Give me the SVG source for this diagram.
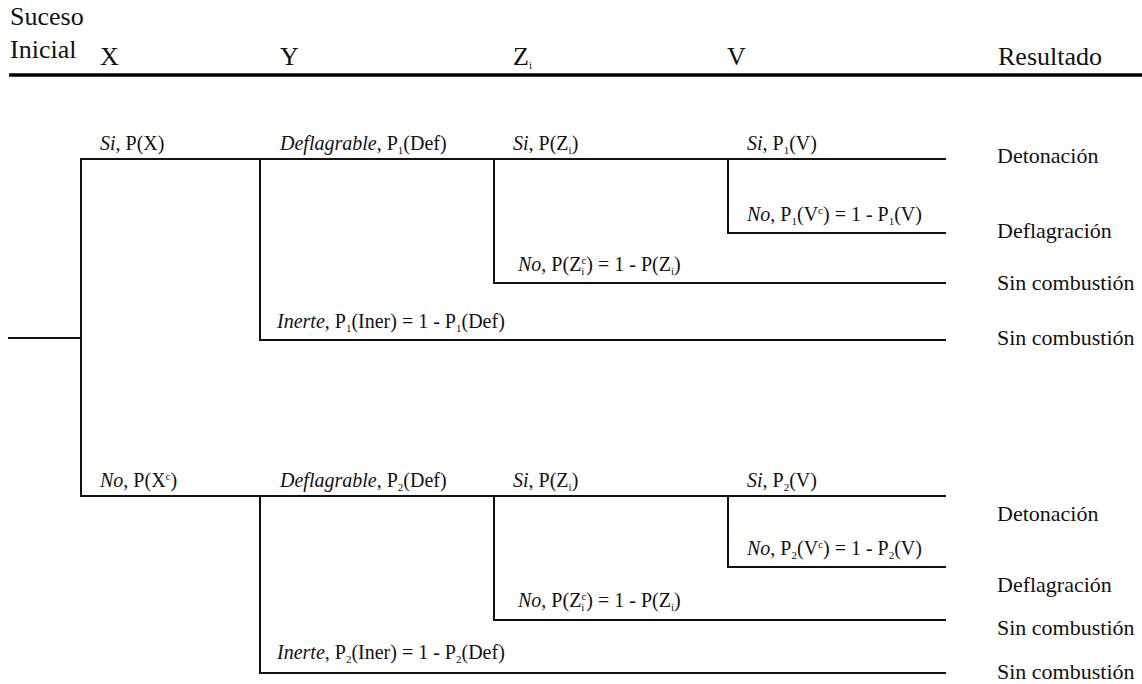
<svg xmlns="http://www.w3.org/2000/svg" width="1142" height="684" viewBox="0 0 1142 684">
  <style>
    text { font-family: "Liberation Serif", "Times New Roman", serif; fill: #111; }
    .hdr { font-size: 26px; }
    .lbl { font-size: 20px; }
    .res { font-size: 22px; }
    .it { font-style: italic; }
    .sb { font-size: 11px; }
    .sp { font-size: 11px; }
    .branch { fill: none; stroke: #111; stroke-width: 2; stroke-linecap: square; }
    .rule { fill: none; stroke: #000; stroke-width: 3.5; }
  </style>
  <rect width="1142" height="684" fill="#fff"/>

  <!-- column headings -->
  <g id="header">
    <text class="hdr" x="10" y="25">Suceso</text>
    <text class="hdr" x="10" y="58">Inicial</text>
    <text class="hdr" x="100" y="65">X</text>
    <text class="hdr" x="280" y="65">Y</text>
    <text class="hdr" x="513" y="65">Z<tspan class="sb" dy="4">i</tspan></text>
    <text class="hdr" x="727" y="65">V</text>
    <text class="hdr" x="998" y="65">Resultado</text>
    <line class="rule" x1="9" y1="75" x2="1142" y2="75"/>
  </g>

  <!-- event tree branches -->
  <g id="connectors" class="branch">
    <!-- initiating stem and X split -->
    <path d="M9 338 H81 M81 159 V496"/>
    <!-- upper branch: X = Si -->
    <path d="M81 159 H945"/>
    <path d="M260 159 V340 H945"/>
    <path d="M494 159 V283 H945"/>
    <path d="M728 159 V233 H945"/>
    <!-- lower branch: X = No -->
    <path d="M81 496 H945"/>
    <path d="M260 496 V673 H945"/>
    <path d="M494 496 V620 H945"/>
    <path d="M728 496 V567 H945"/>
  </g>

  <!-- branch labels, upper half -->
  <g id="x-si"><text class="lbl" x="100" y="150"><tspan class="it">Si</tspan>, P(X)</text></g>
  <g id="y-def-1"><text class="lbl" x="280" y="150"><tspan class="it">Deflagrable</tspan>, P<tspan class="sb" dy="4">1</tspan><tspan dy="-4">(Def)</tspan></text></g>
  <g id="z-si-1"><text class="lbl" x="513" y="150"><tspan class="it">Si</tspan>, P(Z<tspan class="sb" dy="4">i</tspan><tspan dy="-4">)</tspan></text></g>
  <g id="v-si-1"><text class="lbl" x="747" y="150"><tspan class="it">Si</tspan>, P<tspan class="sb" dy="4">1</tspan><tspan dy="-4">(V)</tspan></text></g>
  <g id="v-no-1"><text class="lbl" x="747" y="221"><tspan class="it">No</tspan>, P<tspan class="sb" dy="4">1</tspan><tspan dy="-4">(V</tspan><tspan class="sp" dy="-7">c</tspan><tspan dy="7">) = 1 - P</tspan><tspan class="sb" dy="4">1</tspan><tspan dy="-4">(V)</tspan></text></g>
  <g id="z-no-1"><text class="lbl" x="518" y="271"><tspan class="it">No</tspan>, P(Z<tspan class="sb" dy="4">i</tspan><tspan class="sp" dx="-3" dy="-11">c</tspan><tspan dy="7">) = 1 - P(Z</tspan><tspan class="sb" dy="4">i</tspan><tspan dy="-4">)</tspan></text></g>
  <g id="y-iner-1"><text class="lbl" x="277" y="328"><tspan class="it">Inerte</tspan>, P<tspan class="sb" dy="4">1</tspan><tspan dy="-4">(Iner) = 1 - P</tspan><tspan class="sb" dy="4">1</tspan><tspan dy="-4">(Def)</tspan></text></g>

  <!-- branch labels, lower half -->
  <g id="x-no"><text class="lbl" x="100" y="487"><tspan class="it">No</tspan>, P(X<tspan class="sp" dy="-7">c</tspan><tspan dy="7">)</tspan></text></g>
  <g id="y-def-2"><text class="lbl" x="280" y="487"><tspan class="it">Deflagrable</tspan>, P<tspan class="sb" dy="4">2</tspan><tspan dy="-4">(Def)</tspan></text></g>
  <g id="z-si-2"><text class="lbl" x="513" y="487"><tspan class="it">Si</tspan>, P(Z<tspan class="sb" dy="4">i</tspan><tspan dy="-4">)</tspan></text></g>
  <g id="v-si-2"><text class="lbl" x="747" y="487"><tspan class="it">Si</tspan>, P<tspan class="sb" dy="4">2</tspan><tspan dy="-4">(V)</tspan></text></g>
  <g id="v-no-2"><text class="lbl" x="747" y="555"><tspan class="it">No</tspan>, P<tspan class="sb" dy="4">2</tspan><tspan dy="-4">(V</tspan><tspan class="sp" dy="-7">c</tspan><tspan dy="7">) = 1 - P</tspan><tspan class="sb" dy="4">2</tspan><tspan dy="-4">(V)</tspan></text></g>
  <g id="z-no-2"><text class="lbl" x="518" y="607"><tspan class="it">No</tspan>, P(Z<tspan class="sb" dy="4">i</tspan><tspan class="sp" dx="-3" dy="-11">c</tspan><tspan dy="7">) = 1 - P(Z</tspan><tspan class="sb" dy="4">i</tspan><tspan dy="-4">)</tspan></text></g>
  <g id="y-iner-2"><text class="lbl" x="277" y="659"><tspan class="it">Inerte</tspan>, P<tspan class="sb" dy="4">2</tspan><tspan dy="-4">(Iner) = 1 - P</tspan><tspan class="sb" dy="4">2</tspan><tspan dy="-4">(Def)</tspan></text></g>

  <!-- outcomes -->
  <g id="out-1"><text class="res" x="997" y="163">Detonación</text></g>
  <g id="out-2"><text class="res" x="997" y="238">Deflagración</text></g>
  <g id="out-3"><text class="res" x="997" y="290">Sin combustión</text></g>
  <g id="out-4"><text class="res" x="997" y="345">Sin combustión</text></g>
  <g id="out-5"><text class="res" x="997" y="521">Detonación</text></g>
  <g id="out-6"><text class="res" x="997" y="592">Deflagración</text></g>
  <g id="out-7"><text class="res" x="997" y="635">Sin combustión</text></g>
  <g id="out-8"><text class="res" x="997" y="679">Sin combustión</text></g>
</svg>
